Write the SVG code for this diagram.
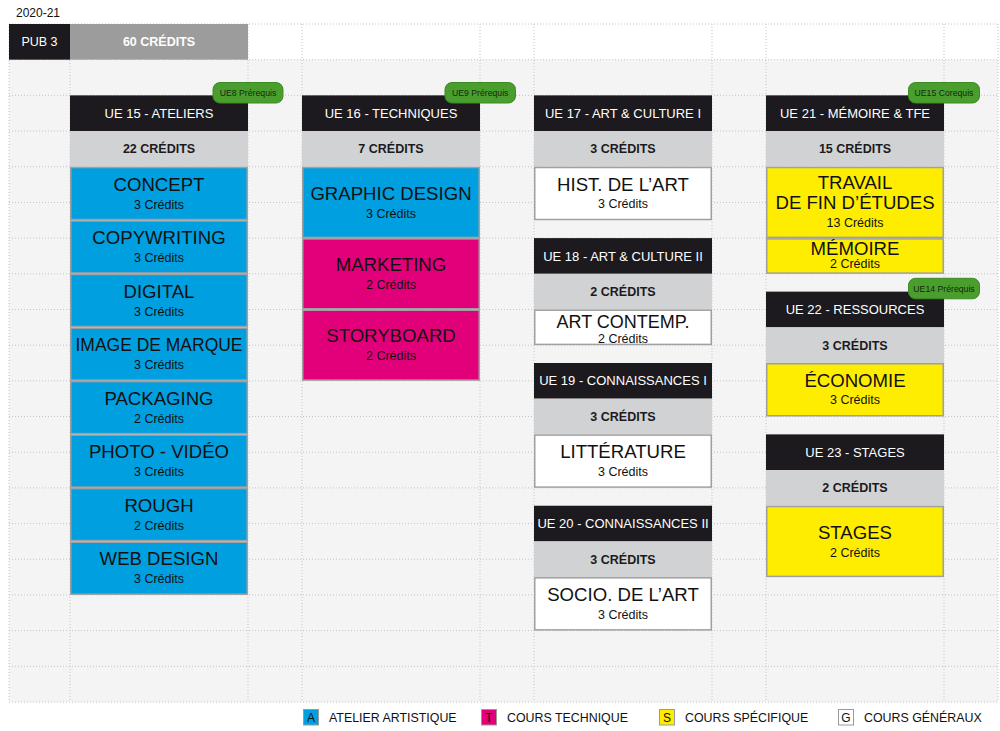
<svg xmlns="http://www.w3.org/2000/svg" width="1000" height="731" viewBox="0 0 1000 731">
<style>
text{font-family:"Liberation Sans",Arial,sans-serif;}
.grid line{stroke:#c4c4c4;stroke-width:1;stroke-dasharray:1 2;}
.hd{fill:#1c1a1e;}
.hdt{fill:#ffffff;font-size:13px;text-anchor:middle;}
.cr{fill:#d1d2d4;}
.crt{fill:#1c1a1e;font-size:12.5px;font-weight:bold;text-anchor:middle;}
.box{stroke:#a0a0a0;stroke-width:1.5;}
.a{fill:#009fe0;}
.t{fill:#e2007a;}
.s{fill:#ffed00;}
.g{fill:#ffffff;}
.ti{fill:#111111;font-size:18.6px;text-anchor:middle;}
.ct{fill:#111111;font-size:12.5px;text-anchor:middle;}
.bd{fill:#4a9e2e;stroke:#3c8a24;stroke-width:1;}
.bdt{fill:#16280f;font-size:8.7px;text-anchor:middle;}
.lg{fill:#111111;font-size:12.4px;}
.lgl{fill:#111111;font-size:12px;text-anchor:middle;}
</style>
<rect x="0" y="0" width="1000" height="731" fill="#ffffff"/>
<rect x="9" y="59.68" width="989" height="642.32" fill="#f4f4f4"/>
<g class="grid">
<line x1="9" y1="24" x2="998" y2="24"/>
<line x1="9" y1="59.68" x2="998" y2="59.68"/>
<line x1="9" y1="95.37" x2="998" y2="95.37"/>
<line x1="9" y1="131.05" x2="998" y2="131.05"/>
<line x1="9" y1="166.74" x2="998" y2="166.74"/>
<line x1="9" y1="202.42" x2="998" y2="202.42"/>
<line x1="9" y1="238.1" x2="998" y2="238.1"/>
<line x1="9" y1="273.79" x2="998" y2="273.79"/>
<line x1="9" y1="309.47" x2="998" y2="309.47"/>
<line x1="9" y1="345.16" x2="998" y2="345.16"/>
<line x1="9" y1="380.84" x2="998" y2="380.84"/>
<line x1="9" y1="416.52" x2="998" y2="416.52"/>
<line x1="9" y1="452.21" x2="998" y2="452.21"/>
<line x1="9" y1="487.89" x2="998" y2="487.89"/>
<line x1="9" y1="523.58" x2="998" y2="523.58"/>
<line x1="9" y1="559.26" x2="998" y2="559.26"/>
<line x1="9" y1="594.94" x2="998" y2="594.94"/>
<line x1="9" y1="630.63" x2="998" y2="630.63"/>
<line x1="9" y1="666.31" x2="998" y2="666.31"/>
<line x1="9" y1="702" x2="998" y2="702"/>
<line x1="9" y1="24" x2="9" y2="702"/>
<line x1="70" y1="24" x2="70" y2="702"/>
<line x1="248" y1="24" x2="248" y2="702"/>
<line x1="302" y1="24" x2="302" y2="702"/>
<line x1="480" y1="24" x2="480" y2="702"/>
<line x1="534" y1="24" x2="534" y2="702"/>
<line x1="712" y1="24" x2="712" y2="702"/>
<line x1="766" y1="24" x2="766" y2="702"/>
<line x1="944" y1="24" x2="944" y2="702"/>
<line x1="998" y1="24" x2="998" y2="702"/>
</g>

<text x="16" y="17" font-size="12px" fill="#111111">2020-21</text>
<g id="pub3">
<rect x="9" y="24" width="61" height="35.68" fill="#1c1a1e"/>
<text x="39.5" y="46.4" font-size="12.5px" fill="#ffffff" text-anchor="middle">PUB 3</text>
<rect x="70" y="24" width="178" height="35.68" fill="#9c9c9c"/>
<text x="159" y="46.4" class="crt" style="fill:#ffffff">60 CRÉDITS</text>
</g>

<!-- UE 15 -->
<g id="ue15">
<rect class="hd" x="70" y="95.37" width="178" height="35.68"/>
<text class="hdt" x="159" y="117.8">UE 15 - ATELIERS</text>
<rect class="cr" x="70" y="131.05" width="178" height="35.69"/>
<text class="crt" x="159" y="153.3">22 CRÉDITS</text>
<rect class="bd" x="213" y="82.5" width="70" height="20.5" rx="7"/>
<text class="bdt" x="248" y="95.8">UE8 Prérequis</text>
</g>
<g id="concept"><rect class="box a" x="70.75" y="167.5" width="176.5" height="52"/><text class="ti" x="159" y="190.7">CONCEPT</text><text class="ct" x="159" y="208.7">3 Crédits</text></g>
<g id="copywriting"><rect class="box a" x="70.75" y="221" width="176.5" height="52"/><text class="ti" x="159" y="244.2">COPYWRITING</text><text class="ct" x="159" y="262.2">3 Crédits</text></g>
<g id="digital"><rect class="box a" x="70.75" y="274.5" width="176.5" height="52"/><text class="ti" x="159" y="297.7">DIGITAL</text><text class="ct" x="159" y="315.7">3 Crédits</text></g>
<g id="image-de-marque"><rect class="box a" x="70.75" y="328.1" width="176.5" height="52"/><text class="ti" x="159" y="351.3" textLength="167" lengthAdjust="spacingAndGlyphs">IMAGE DE MARQUE</text><text class="ct" x="159" y="369.3">3 Crédits</text></g>
<g id="packaging"><rect class="box a" x="70.75" y="381.6" width="176.5" height="52"/><text class="ti" x="159" y="404.8">PACKAGING</text><text class="ct" x="159" y="422.8">2 Crédits</text></g>
<g id="photo-video"><rect class="box a" x="70.75" y="435.1" width="176.5" height="52"/><text class="ti" x="159" y="458.3">PHOTO - VIDÉO</text><text class="ct" x="159" y="476.3">3 Crédits</text></g>
<g id="rough"><rect class="box a" x="70.75" y="488.6" width="176.5" height="52"/><text class="ti" x="159" y="511.8">ROUGH</text><text class="ct" x="159" y="529.8">2 Crédits</text></g>
<g id="web-design"><rect class="box a" x="70.75" y="542.2" width="176.5" height="52"/><text class="ti" x="159" y="565.4">WEB DESIGN</text><text class="ct" x="159" y="583.4">3 Crédits</text></g>

<!-- UE 16 -->
<g id="ue16">
<rect class="hd" x="302" y="95.37" width="178" height="35.68"/>
<text class="hdt" x="391" y="117.8">UE 16 - TECHNIQUES</text>
<rect class="cr" x="302" y="131.05" width="178" height="35.69"/>
<text class="crt" x="391" y="153.3">7 CRÉDITS</text>
<rect class="bd" x="445" y="82.5" width="70.5" height="20.5" rx="7"/>
<text class="bdt" x="480.2" y="95.8">UE9 Prérequis</text>
</g>
<g id="graphic-design"><rect class="box a" x="302.75" y="167.5" width="176.5" height="69.9"/><text class="ti" x="391" y="199.5">GRAPHIC DESIGN</text><text class="ct" x="391" y="217.5">3 Crédits</text></g>
<g id="marketing"><rect class="box t" x="302.75" y="238.9" width="176.5" height="69.9"/><text class="ti" x="391" y="270.9">MARKETING</text><text class="ct" x="391" y="288.9">2 Crédits</text></g>
<g id="storyboard"><rect class="box t" x="302.75" y="310.2" width="176.5" height="69.9"/><text class="ti" x="391" y="342.2">STORYBOARD</text><text class="ct" x="391" y="360.2">2 Crédits</text></g>

<!-- UE 17 -->
<g id="ue17">
<rect class="hd" x="534" y="95.37" width="178" height="35.68"/>
<text class="hdt" x="623" y="117.8">UE 17 - ART &amp; CULTURE I</text>
<rect class="cr" x="534" y="131.05" width="178" height="35.69"/>
<text class="crt" x="623" y="153.3">3 CRÉDITS</text>
</g>
<g id="hist-art"><rect class="box g" x="534.75" y="167.5" width="176.5" height="52"/><text class="ti" x="623" y="190.7">HIST. DE L’ART</text><text class="ct" x="623" y="208.4">3 Crédits</text></g>

<g id="ue18">
<rect class="hd" x="534" y="238.1" width="178" height="35.69"/>
<text class="hdt" x="623" y="260.5">UE 18 - ART &amp; CULTURE II</text>
<rect class="cr" x="534" y="273.79" width="178" height="35.68"/>
<text class="crt" x="623" y="296">2 CRÉDITS</text>
</g>
<g id="art-contemp"><rect class="box g" x="534.75" y="310.2" width="176.5" height="34.2"/><text class="ti" x="623" y="328" style="font-size:18px">ART CONTEMP.</text><text class="ct" x="623" y="342.6">2 Crédits</text></g>

<g id="ue19">
<rect class="hd" x="534" y="363" width="178" height="35.68"/>
<text class="hdt" x="623" y="385.4">UE 19 - CONNAISSANCES I</text>
<rect class="cr" x="534" y="398.68" width="178" height="35.69"/>
<text class="crt" x="623" y="421">3 CRÉDITS</text>
</g>
<g id="litterature"><rect class="box g" x="534.75" y="435.1" width="176.5" height="52"/><text class="ti" x="623" y="458.3">LITTÉRATURE</text><text class="ct" x="623" y="476">3 Crédits</text></g>

<g id="ue20">
<rect class="hd" x="534" y="505.73" width="178" height="35.69"/>
<text class="hdt" x="623" y="528.1">UE 20 - CONNAISSANCES II</text>
<rect class="cr" x="534" y="541.42" width="178" height="35.68"/>
<text class="crt" x="623" y="563.7">3 CRÉDITS</text>
</g>
<g id="socio-art"><rect class="box g" x="534.75" y="577.85" width="176.5" height="52"/><text class="ti" x="623" y="601">SOCIO. DE L’ART</text><text class="ct" x="623" y="618.7">3 Crédits</text></g>

<!-- UE 21 -->
<g id="ue21">
<rect class="hd" x="766" y="95.37" width="178" height="35.68"/>
<text class="hdt" x="855" y="117.8">UE 21 - MÉMOIRE &amp; TFE</text>
<rect class="cr" x="766" y="131.05" width="178" height="35.69"/>
<text class="crt" x="855" y="153.3">15 CRÉDITS</text>
<rect class="bd" x="908.5" y="82.5" width="71" height="20.5" rx="7"/>
<text class="bdt" x="944" y="95.8">UE15 Corequis</text>
</g>
<g id="tfe"><rect class="box s" x="766.75" y="167.5" width="176.5" height="69.9"/><text class="ti" x="855" y="188.8">TRAVAIL</text><text class="ti" x="855" y="209">DE FIN D’ÉTUDES</text><text class="ct" x="855" y="227">13 Crédits</text></g>
<g id="memoire"><rect class="box s" x="766.75" y="238.9" width="176.5" height="34.2"/><text class="ti" x="855" y="255.2">MÉMOIRE</text><text class="ct" x="855" y="268.4">2 Crédits</text></g>

<g id="ue22">
<rect class="hd" x="766" y="291.63" width="178" height="35.69"/>
<text class="hdt" x="855" y="314">UE 22 - RESSOURCES</text>
<rect class="cr" x="766" y="327.32" width="178" height="35.68"/>
<text class="crt" x="855" y="349.6">3 CRÉDITS</text>
<rect class="bd" x="908.5" y="278.3" width="71" height="20.5" rx="7"/>
<text class="bdt" x="944" y="291.6">UE14 Prérequis</text>
</g>
<g id="economie"><rect class="box s" x="766.75" y="363.75" width="176.5" height="52"/><text class="ti" x="855" y="386.6">ÉCONOMIE</text><text class="ct" x="855" y="404.3">3 Crédits</text></g>

<g id="ue23">
<rect class="hd" x="766" y="434.37" width="178" height="35.68"/>
<text class="hdt" x="855" y="456.8">UE 23 - STAGES</text>
<rect class="cr" x="766" y="470.05" width="178" height="35.68"/>
<text class="crt" x="855" y="492.3">2 CRÉDITS</text>
</g>
<g id="stages"><rect class="box s" x="766.75" y="506.5" width="176.5" height="69.9"/><text class="ti" x="855" y="538.5">STAGES</text><text class="ct" x="855" y="556.5">2 Crédits</text></g>

<!-- Legend -->
<g id="legend">
<rect x="303.5" y="709.5" width="15" height="15.5" fill="#009fe0" stroke="#9a9a9a" stroke-width="1"/>
<text class="lgl" x="311" y="722">A</text>
<text class="lg" x="329" y="722">ATELIER ARTISTIQUE</text>
<rect x="481.5" y="709.5" width="15" height="15.5" fill="#e2007a" stroke="#9a9a9a" stroke-width="1"/>
<text class="lgl" x="489" y="722">T</text>
<text class="lg" x="507" y="722">COURS TECHNIQUE</text>
<rect x="659.5" y="709.5" width="15" height="15.5" fill="#ffed00" stroke="#9a9a9a" stroke-width="1"/>
<text class="lgl" x="667" y="722">S</text>
<text class="lg" x="685" y="722">COURS SPÉCIFIQUE</text>
<rect x="838.5" y="709.5" width="15" height="15.5" fill="#ffffff" stroke="#9a9a9a" stroke-width="1"/>
<text class="lgl" x="846" y="722">G</text>
<text class="lg" x="864" y="722">COURS GÉNÉRAUX</text>
</g>
</svg>
